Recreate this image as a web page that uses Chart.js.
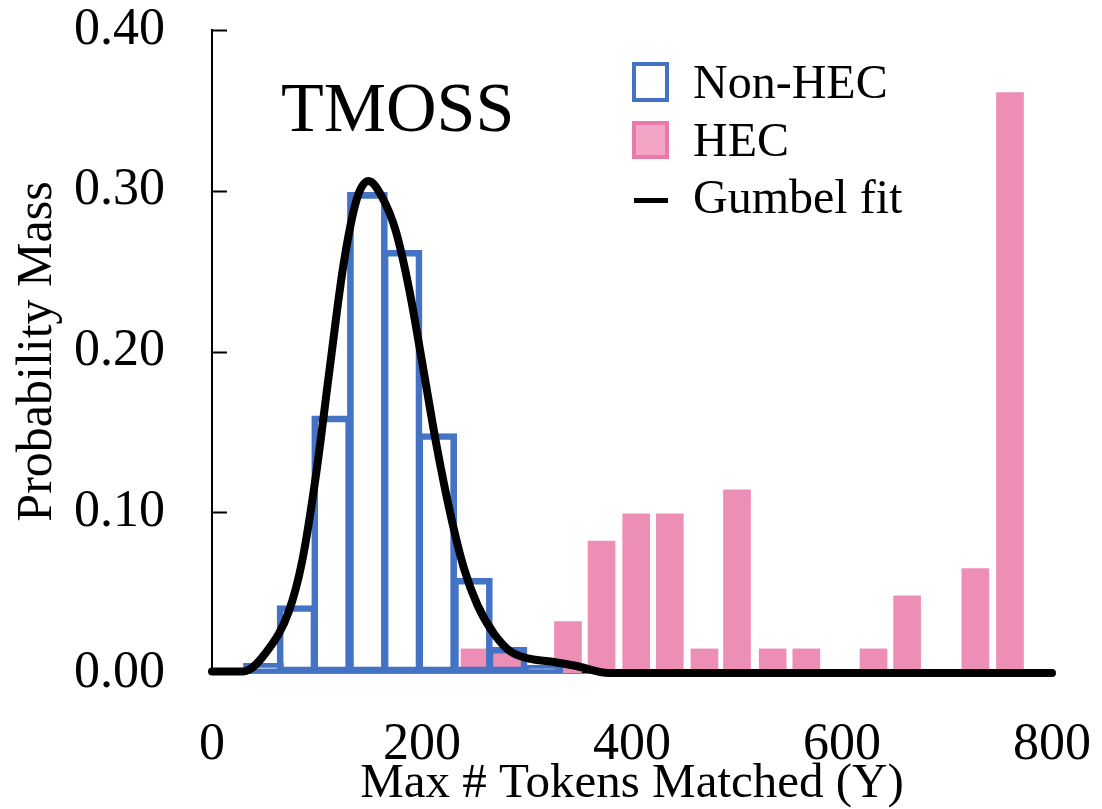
<!DOCTYPE html>
<html>
<head>
<meta charset="utf-8">
<script src="https://cdn.jsdelivr.net/npm/chart.js@4.4.0/dist/chart.umd.min.js"></script>
<style>
  html, body { margin: 0; padding: 0; background: #fff; }
  #wrap { width: 1102px; height: 809px; }
</style>
</head>
<body>
<div id="wrap"><canvas id="chart" width="1102" height="809"></canvas></div>
<script>
// TMOSS - max # tokens matched, probability mass per bin

const nonHecBins = [49, 81, 114, 148, 181, 214, 248, 281, 315];
const nonHecMass = [0.006, 0.042, 0.160, 0.299, 0.263, 0.149, 0.059, 0.016, 0.005];

const hecBins = [250, 281, 339, 371, 404, 436, 469, 500, 534, 566, 630, 662, 727, 760];
const hecMass = [0.015, 0.015, 0.032, 0.082, 0.099, 0.099, 0.015, 0.114, 0.015, 0.015, 0.015, 0.048, 0.065, 0.361];

const gumbelX = [0, 30, 54, 73, 86, 99, 112, 125, 138, 149, 162, 175, 188, 201, 214, 227, 240, 253, 269, 285, 302, 324, 346, 378, 800];
const gumbelY = [0.001, 0.001, 0.015, 0.038, 0.07, 0.123, 0.189, 0.253, 0.295, 0.306, 0.296, 0.275, 0.238, 0.19, 0.141, 0.099, 0.065, 0.042, 0.024, 0.013, 0.009, 0.007, 0.0045, 0, 0];

const xTicks = [0, 200, 400, 600, 800];
const yTicks = [0, 0.1, 0.2, 0.3, 0.4];

const legendItems = ['Non-HEC', 'HEC', 'Gumbel fit'];
const panelTitle = 'TMOSS';

const FONT = "'Liberation Serif', 'Times New Roman', serif";
const BLUE = '#4472C4';
const PINK = '#ED8EB7';

const toPoints = (xs, ys) => xs.map((x, i) => ({ x: x, y: ys[i] }));

// inward y ticks, panel title and legend
const decorations = {
  id: 'decorations',
  afterDraw(chart) {
    const ctx = chart.ctx;
    const y = chart.scales.y;
    const left = chart.chartArea.left;

    ctx.save();
    ctx.strokeStyle = '#000';
    ctx.lineWidth = 2;
    y.ticks.forEach(t => {
      const py = Math.round(y.getPixelForValue(t.value)) + 0.5;
      ctx.beginPath();
      ctx.moveTo(left, py);
      ctx.lineTo(left + 15, py);
      ctx.stroke();
    });

    ctx.fillStyle = '#000';
    ctx.textAlign = 'left';
    ctx.textBaseline = 'alphabetic';
    ctx.font = '70px ' + FONT;
    ctx.fillText(panelTitle, 281, 131);

    // legend
    ctx.strokeStyle = BLUE;
    ctx.lineWidth = 4;
    ctx.strokeRect(634, 64, 33, 36);

    ctx.fillStyle = '#F4A5C5';
    ctx.fillRect(632, 121, 37, 38);
    ctx.strokeStyle = '#E97AAA';
    ctx.strokeRect(634, 123, 33, 34);

    ctx.fillStyle = '#000';
    ctx.fillRect(634, 198, 34, 5);

    ctx.font = '48px ' + FONT;
    const baselines = [98, 156, 213];
    legendItems.forEach((txt, i) => ctx.fillText(txt, 693, baselines[i]));
    ctx.restore();
  }
};

const chart = new Chart(document.getElementById('chart'), {
  type: 'bar',
  data: {
    datasets: [
      {
        type: 'line',
        label: legendItems[2],
        data: toPoints(gumbelX, gumbelY),
        borderColor: '#000',
        borderWidth: 8,
        borderCapStyle: 'round',
        pointRadius: 0,
        cubicInterpolationMode: 'monotone',
        clip: false,
        order: 0
      },
      {
        label: legendItems[0],
        data: toPoints(nonHecBins, nonHecMass),
        backgroundColor: 'rgba(0,0,0,0)',
        borderColor: BLUE,
        borderWidth: 6,
        borderSkipped: false,
        barThickness: 40,
        grouped: false,
        order: 1
      },
      {
        label: legendItems[1],
        data: toPoints(hecBins, hecMass),
        backgroundColor: PINK,
        borderWidth: 0,
        barThickness: 27,
        grouped: false,
        order: 2
      }
    ]
  },
  options: {
    responsive: false,
    animation: false,
    events: [],
    layout: { padding: { top: 30, right: 50, bottom: 0, left: 0 } },
    plugins: {
      legend: { display: false },
      tooltip: { enabled: false }
    },
    scales: {
      x: {
        type: 'linear',
        min: 0,
        max: 800,
        offset: false,
        afterBuildTicks: s => { s.ticks = xTicks.map(v => ({ value: v })); },
        afterFit: s => { s.height = 136; s.paddingLeft = 0; s.paddingRight = 0; },
        grid: { display: false, drawTicks: false },
        border: { display: true, color: '#000', width: 1.5 },
        ticks: {
          padding: 41,
          color: '#000',
          font: { family: FONT, size: 52 },
          maxRotation: 0
        },
        title: {
          display: true,
          text: 'Max # Tokens Matched (Y)',
          color: '#000',
          font: { family: FONT, size: 49, lineHeight: 1 },
          padding: { top: 0, bottom: 0 }
        }
      },
      y: {
        type: 'linear',
        min: 0,
        max: 0.4,
        afterBuildTicks: s => { s.ticks = yTicks.map(v => ({ value: v })); },
        afterFit: s => { s.width = 212; s.paddingTop = 0; s.paddingBottom = 0; },
        grid: { display: false, drawTicks: false },
        border: { display: true, color: '#000', width: 2 },
        ticks: {
          padding: 47,
          color: '#000',
          font: { family: FONT, size: 52 },
          callback: v => v.toFixed(2)
        },
        title: {
          display: true,
          text: 'Probability Mass',
          color: '#000',
          font: { family: FONT, size: 50 },
          padding: { top: 8, bottom: 0 }
        }
      }
    }
  },
  plugins: [decorations]
});
</script>
</body>
</html>
